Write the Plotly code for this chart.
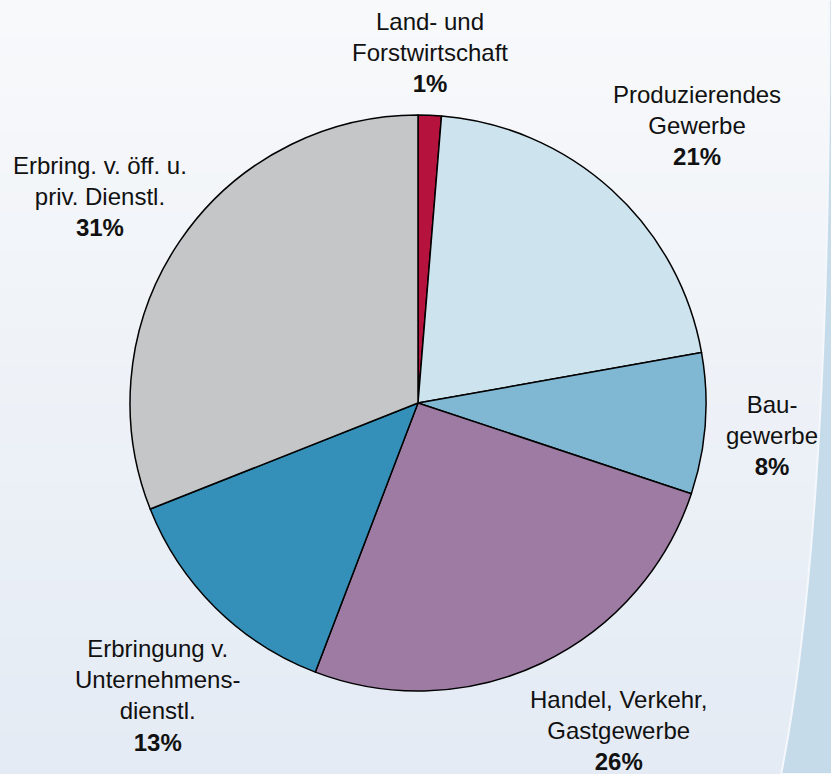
"""
Kreisdiagramm: Bruttowertschöpfung nach Wirtschaftsbereichen.
"""

import plotly.graph_objects as go

# ========== DATEN ==========
labels = [
    'Land- und<br>Forstwirtschaft',
    'Produzierendes<br>Gewerbe',
    'Bau-<br>gewerbe',
    'Handel, Verkehr,<br>Gastgewerbe',
    'Erbringung v.<br>Unternehmens-<br>dienstl.',
    'Erbring. v. öff. u.<br>priv. Dienstl.',
]
values = [1.3, 20.9, 7.9, 25.7, 13.2, 31.0]

# ========== STILE ==========
slice_colors = ['#b5123e', '#cde3ee', '#80b8d4', '#9e7ba3', '#3490b9', '#c5c6c8']
# Position der Beschriftungen (Pixel im 831x774 Fenster: Mitte x, Mitte y)
label_pos = [(430, 52), (697, 126), (772, 435), (618, 730), (157, 695), (100, 197)]

W, H = 831, 774
FONT = dict(family='Arial, Liberation Sans, sans-serif', size=24, color='#111111')

fig = go.Figure()

fig.add_trace(go.Pie(
    labels=labels,
    values=values,
    sort=False,
    direction='clockwise',
    rotation=0,
    marker=dict(colors=slice_colors, line=dict(color='#000000', width=1.5)),
    textinfo='none',
    hoverinfo='label+percent',
    showlegend=False,
    domain=dict(x=[130 / W, 706 / W], y=[(774 - 691) / H, (774 - 115) / H]),
))

# Beschriftungen mit gerundetem Prozentwert
total = sum(values)
annotations = []
for lab, val, (px, py) in zip(labels, values, label_pos):
    annotations.append(dict(
        text=f"{lab}<br><b>{round(val / total * 100)}%</b>",
        x=px / W, y=(H - py) / H,
        xref='paper', yref='paper',
        xanchor='center', yanchor='middle',
        showarrow=False, align='center',
        font=FONT,
    ))

# Hintergrund: vertikaler Verlauf + blauer Streifen rechts
shapes = []
n_bands = 40
top_rgb = (248, 249, 251)
bot_rgb = (228, 235, 244)
for i in range(n_bands):
    t = i / (n_bands - 1)
    c = tuple(round(a + (b - a) * t) for a, b in zip(top_rgb, bot_rgb))
    shapes.append(dict(
        type='rect', xref='paper', yref='paper',
        x0=0, x1=1, y0=1 - (i + 1) / n_bands, y1=1 - i / n_bands + 0.002,
        fillcolor=f'rgb{c}', line=dict(width=0), layer='below',
    ))
shapes.append(dict(
    type='path', xref='paper', yref='paper',
    path='M 0.998,1 Q 0.999,0.32 0.94,0 L 1.01,0 L 1.01,1 Z',
    fillcolor='#c6dbea', line=dict(color='#f4f7fb', width=2), layer='below',
))

fig.update_layout(
    width=W, height=H,
    margin=dict(l=0, r=0, t=0, b=0),
    paper_bgcolor='#eef2f7',
    plot_bgcolor='rgba(0,0,0,0)',
    annotations=annotations,
    shapes=shapes,
)

# Seitenrand des Browsers entfernen, damit die Grafik das Fenster füllt
fig.write_html(
    "out.html",
    config={'displayModeBar': False},
    post_script="document.body.style.margin='0';",
)
